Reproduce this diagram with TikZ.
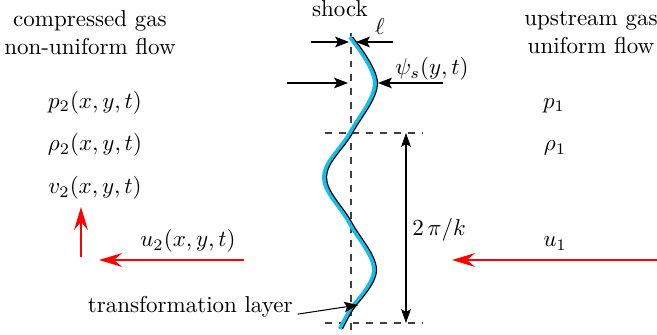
\documentclass[tikz,border=0pt]{standalone}
\usepackage{amsmath,amssymb}
\usepackage{tikz}
\usetikzlibrary{arrows.meta,calc,positioning}
\definecolor{flowred}{RGB}{255,0,0}
\definecolor{layercyan}{RGB}{20,190,235}

\begin{document}
\begin{tikzpicture}[x=0.435pt,y=-0.435pt,>=Stealth,
  lbl/.style={inner sep=0pt,anchor=base},
  guide/.style={dashed,black!75,line width=0.45pt},
  dimarrow/.style={line width=0.45pt,-{Stealth[length=6pt,width=4.6pt,inset=1.2pt]}},
  flowarrow/.style={flowred,line width=0.9pt,-{Stealth[length=10pt,width=6pt,inset=3.5pt]}}]
  \useasboundingbox (0,0) rectangle (657,335);
  % labels
  \node[inner sep=0pt,anchor=north,align=center] (downgas) at (90,10) {compressed gas\\non-uniform flow};
  \node[inner sep=0pt,anchor=north,align=center] (upgas) at (591,11) {upstream gas\\uniform flow};
  \node[lbl] (shocklbl) at (340,17) {shock};
  \node[lbl] (elllbl) at (380,35) {$\ell$};
  \node[lbl] (psilbl) at (432,75) {$\psi_s(y,t)$};
  \node[lbl] (ptwo) at (95,108) {$p_2(x,y,t)$};
  \node[lbl] (rhotwo) at (95,151) {$\rho_2(x,y,t)$};
  \node[lbl] (vtwo) at (95,194) {$v_2(x,y,t)$};
  \node[lbl] (pone) at (554,108) {$p_1$};
  \node[lbl] (rhoone) at (555,151) {$\rho_1$};
  \node[lbl] (utwo) at (188,247) {$u_2(x,y,t)$};
  \node[lbl] (uone) at (555,247) {$u_1$};
  \node[lbl] (wavelen) at (439,236) {$2\,\pi/k$};
  \node[lbl,anchor=base east] (layerlbl) at (293,313) {transformation layer};
  % points
  \coordinate (shocktop) at (351,33);
  \coordinate (shockbot) at (351,335);
  \coordinate (crestA) at (325,133);
  \coordinate (crestAend) at (423,133);
  \coordinate (crestB) at (325,323);
  \coordinate (crestBend) at (423,323);
  \coordinate (spanA) at (406,133);
  \coordinate (spanB) at (406,323);
  \coordinate (ellL) at (311,42);
  \coordinate (ellLtip) at (349,42);
  \coordinate (ellR) at (393,42);
  \coordinate (ellRtip) at (356,42);
  \coordinate (psiL) at (287,83);
  \coordinate (psiLtip) at (348,83);
  \coordinate (psiR) at (443,83);
  \coordinate (psiRtip) at (378,83);
  \coordinate (layertip) at (358,305);
  \coordinate (vbase) at (81,257);
  \coordinate (vtip) at (81,207);
  \coordinate (utwobase) at (244,260);
  \coordinate (utwotip) at (99,260);
  \coordinate (uonebase) at (657,260);
  \coordinate (uonetip) at (452,260);
  % guide lines
  \draw[guide] (shocktop)--(shockbot);
  \draw[guide] (crestA)--(crestAend);
  \draw[guide] (crestB)--(crestBend);
  % shock front
  \draw[layercyan,line width=1.8pt] plot[smooth,tension=0.6] coordinates
    {(350,37) (375,83) (350,133) (324,177) (349,222) (374,270) (349,312) (340,329)};
  \draw[line width=0.5pt] plot[smooth,tension=0.6] coordinates
    {(352.5,37) (377.5,83) (352.5,133) (326.5,177) (351.5,222) (376.5,270) (351.5,312) (342.5,329)};
  % dimensions
  \draw[dimarrow] (ellL)--(ellLtip);
  \draw[dimarrow] (ellR)--(ellRtip);
  \draw[dimarrow] (psiL)--(psiLtip);
  \draw[dimarrow] (psiR)--(psiRtip);
  \draw[line width=0.45pt,{Stealth[length=6pt,width=4.2pt,inset=1.2pt]}-{Stealth[length=6pt,width=4.2pt,inset=1.2pt]}] (spanA)--(spanB);
  \draw[dimarrow] ([xshift=2pt,yshift=-0.5pt]layerlbl.base east)--(layertip);
  % flow
  \draw[flowarrow] (vbase)--(vtip);
  \draw[flowarrow] (utwobase)--(utwotip);
  \draw[flowarrow] (uonebase)--(uonetip);
\end{tikzpicture}
\end{document}
